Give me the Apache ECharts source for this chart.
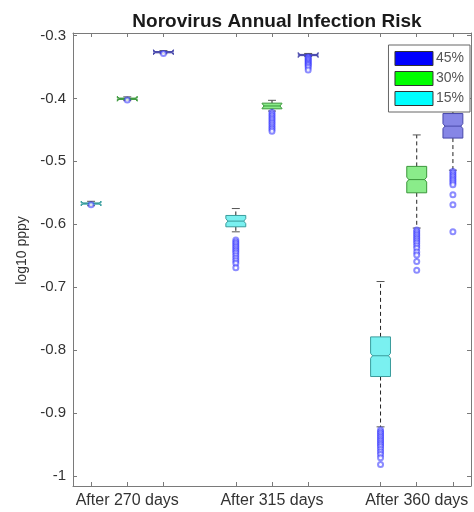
<!DOCTYPE html>
<html><head><meta charset="utf-8">
<script src="https://cdn.jsdelivr.net/npm/echarts@6/dist/echarts.min.js"></script>
<style>html,body{margin:0;padding:0;background:#fff}#c{width:474px;height:512px}</style>
</head><body><div id="c"></div>
<script>
// ---- data ----
const groupLabels = ['After 270 days', 'After 315 days', 'After 360 days'];
const seriesNames = ['15%', '30%', '45%'];
const yTicks = [-1, -0.9, -0.8, -0.7, -0.6, -0.5, -0.4, -0.3];
// box stats per group: [lower whisker, Q1, median, Q3, upper whisker]
const stats15 = [
  [-0.5705, -0.5680, -0.5670, -0.5660, -0.5635],
  [-0.612, -0.604, -0.595, -0.586, -0.575],
  [-0.922, -0.842, -0.809, -0.779, -0.691]
];
const stats30 = [
  [-0.4035, -0.4015, -0.4005, -0.3995, -0.3975],
  [-0.420, -0.4165, -0.412, -0.4075, -0.403],
  [-0.606, -0.550, -0.529, -0.508, -0.458]
];
const stats45 = [
  [-0.3290, -0.3275, -0.3265, -0.3255, -0.3240],
  [-0.3335, -0.3320, -0.3310, -0.3300, -0.3285],
  [-0.514, -0.463, -0.444, -0.424, -0.405]
];
// outliers per group
const out15 = [
  [-0.5690],
  [-0.625, -0.628, -0.631, -0.634, -0.637, -0.640, -0.643, -0.646, -0.650, -0.654, -0.658, -0.662, -0.669],
  [-0.927, -0.930, -0.933, -0.936, -0.939, -0.942, -0.945, -0.948, -0.951, -0.954, -0.958, -0.962, -0.966, -0.971, -0.982]
];
const out30 = [
  [-0.4025],
  [-0.422, -0.425, -0.428, -0.431, -0.434, -0.437, -0.440, -0.443, -0.446, -0.449, -0.452],
  [-0.609, -0.612, -0.615, -0.618, -0.621, -0.624, -0.627, -0.630, -0.634, -0.638, -0.644, -0.649, -0.659, -0.673]
];
const out45 = [
  [-0.3285],
  [-0.334, -0.336, -0.338, -0.340, -0.342, -0.344, -0.346, -0.348, -0.351, -0.355],
  [-0.516, -0.519, -0.522, -0.525, -0.528, -0.531, -0.534, -0.537, -0.553, -0.569, -0.612]
];

// ---- build ----
const categories = [];
groupLabels.forEach((g, i) => {
  if (i > 0) categories.push('');
  categories.push('', g, '');
});
const slotOf = (g, s) => g * 4 + s; // s: 0=15%,1=30%,2=45%

const fills = ['#7af0f0', '#8aec8a', '#8686e6'];
const edges = ['#3a9c9c', '#3a963a', '#4848aa'];
const legendColors = ['#00ffff', '#00ff00', '#0000ff'];
const allStats = [stats15, stats30, stats45];
const allOut = [out15, out30, out45];

function makeRender(si) {
  return function (params, api) {
    const x = api.value(0);
    const lo = api.value(1), q1 = api.value(2), md = api.value(3), q3 = api.value(4), hi = api.value(5);
    const cx = api.coord([x, md])[0];
    const yLo = api.coord([x, lo])[1], yQ1 = api.coord([x, q1])[1], yMd = api.coord([x, md])[1];
    const yQ3 = api.coord([x, q3])[1], yHi = api.coord([x, hi])[1];
    const band = api.size([1, 0])[0];
    const w = band * 0.55, L = cx - w / 2, R = cx + w / 2;
    const capH = w * 0.2, n = 2.5, ind = w * 0.1;
    const dash = { stroke: '#222', lineWidth: 1, lineDash: [4, 3] };
    return {
      type: 'group',
      children: [
        { type: 'line', shape: { x1: cx, y1: yQ3, x2: cx, y2: yHi }, style: dash },
        { type: 'line', shape: { x1: cx, y1: yQ1, x2: cx, y2: yLo }, style: dash },
        { type: 'line', shape: { x1: cx - capH, y1: yHi, x2: cx + capH, y2: yHi }, style: { stroke: '#555', lineWidth: 1 } },
        { type: 'line', shape: { x1: cx - capH, y1: yLo, x2: cx + capH, y2: yLo }, style: { stroke: '#555', lineWidth: 1 } },
        { type: 'polygon', shape: { points: [[L, yQ1], [L, yMd + n], [L + ind, yMd], [L, yMd - n], [L, yQ3], [R, yQ3], [R, yMd - n], [R - ind, yMd], [R, yMd + n], [R, yQ1]] },
          style: { fill: fills[si], stroke: edges[si], lineWidth: 1 } },
        { type: 'line', shape: { x1: L + ind, y1: yMd, x2: R - ind, y2: yMd }, style: { stroke: edges[si], lineWidth: 1 } }
      ]
    };
  };
}

const series = [];
seriesNames.forEach((name, si) => {
  series.push({
    name: name, type: 'custom', renderItem: makeRender(si), clip: false,
    itemStyle: { color: legendColors[si] },
    encode: { x: 0, y: [1, 2, 3, 4, 5] },
    data: allStats[si].map((s, g) => [slotOf(g, si)].concat(s)),
    z: 2
  });
});
seriesNames.forEach((name, si) => {
  const pts = [];
  allOut[si].forEach((arr, g) => arr.forEach(v => pts.push([slotOf(g, si), v])));
  series.push({
    type: 'scatter', data: pts, symbol: 'emptyCircle', symbolSize: 5, z: 3, silent: true,
    itemStyle: { color: 'rgba(50,50,255,0.7)', borderColor: 'rgba(50,50,255,0.7)', borderWidth: 1 }
  });
});

const axisLine = { show: true, lineStyle: { color: '#7a7a7a', width: 1 } };
const tickSel = (i) => categories[i] !== '' || (i % 4 !== 3);
const chart = echarts.init(document.getElementById('c'), null, { renderer: 'canvas' });
chart.setOption({
  animation: false,
  backgroundColor: '#fff',
  title: {
    text: 'Norovirus Annual Infection Risk', left: 272, top: 7, textAlign: 'center',
    textStyle: { fontFamily: 'Liberation Sans', fontWeight: 'bold', fontSize: 19, color: '#1a1a1a' }
  },
  legend: {
    orient: 'vertical', right: 4, top: 45, icon: 'rect', itemWidth: 38, itemHeight: 14, itemGap: 5,
    padding: [6, 6, 6, 6], borderColor: '#666', borderWidth: 1, backgroundColor: '#fff',
    textStyle: { fontFamily: 'Liberation Sans', fontSize: 14, color: '#555', padding: [0, 0, 0, -2] },
    data: [
      { name: '45%', itemStyle: { color: legendColors[2], borderColor: '#333', borderWidth: 1 } },
      { name: '30%', itemStyle: { color: legendColors[1], borderColor: '#333', borderWidth: 1 } },
      { name: '15%', itemStyle: { color: legendColors[0], borderColor: '#333', borderWidth: 1 } }
    ]
  },
  grid: { left: 73, right: 3, top: 33, bottom: 26 },
  xAxis: [
    { type: 'category', data: categories, boundaryGap: true, position: 'bottom',
      axisLine: axisLine, axisTick: { show: true, inside: true, length: 4, alignWithLabel: true, interval: (i) => tickSel(i), lineStyle: { color: '#7a7a7a' } },
      axisLabel: { interval: 0, margin: 7, fontFamily: 'Liberation Sans', fontSize: 16, color: '#333' } },
    { type: 'category', data: categories, boundaryGap: true, position: 'top',
      axisLine: axisLine, axisTick: { show: true, inside: true, length: 4, alignWithLabel: true, interval: (i) => tickSel(i), lineStyle: { color: '#7a7a7a' } },
      axisLabel: { show: false } }
  ],
  yAxis: [
    { type: 'value', min: -1.016, max: -0.296, position: 'left',
      name: 'log10 pppy', nameLocation: 'middle', nameGap: 30, nameRotate: 90,
      nameTextStyle: { fontFamily: 'Liberation Sans', fontSize: 14, color: '#333', padding: [0, 0, 0, 18] },
      axisLine: axisLine, splitLine: { show: false },
      axisTick: { show: true, inside: true, length: 4, customValues: yTicks, lineStyle: { color: '#7a7a7a' } },
      axisLabel: { customValues: yTicks, margin: 7, fontFamily: 'Liberation Sans', fontSize: 15, color: '#333',
        formatter: (v) => String(Math.round(v * 10) / 10) } },
    { type: 'value', min: -1.016, max: -0.296, position: 'right',
      axisLine: axisLine, splitLine: { show: false },
      axisTick: { show: true, inside: true, length: 4, customValues: yTicks, lineStyle: { color: '#7a7a7a' } },
      axisLabel: { show: false } }
  ],
  series: series
});
</script></body></html>
